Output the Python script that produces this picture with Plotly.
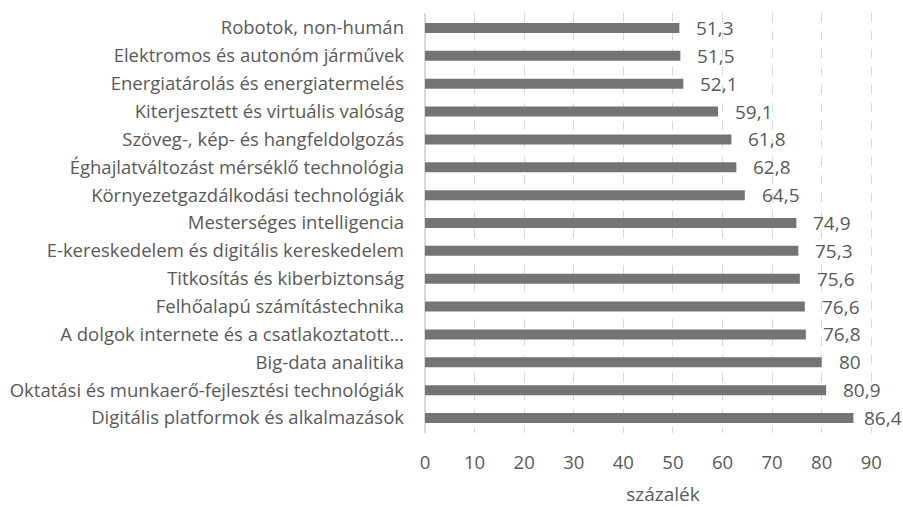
import plotly.graph_objects as go

# categories from top to bottom as shown
categories = [
    "Robotok, non-humán",
    "Elektromos és autonóm járművek",
    "Energiatárolás és energiatermelés",
    "Kiterjesztett és virtuális valóság",
    "Szöveg-, kép- és hangfeldolgozás",
    "Éghajlatváltozást mérséklő technológia",
    "Környezetgazdálkodási technológiák",
    "Mesterséges intelligencia",
    "E-kereskedelem és digitális kereskedelem",
    "Titkosítás és kiberbiztonság",
    "Felhőalapú számítástechnika",
    "A dolgok internete és a csatlakoztatott…",
    "Big-data analitika",
    "Oktatási és munkaerő-fejlesztési technológiák",
    "Digitális platformok és alkalmazások",
]
values = [51.3, 51.5, 52.1, 59.1, 61.8, 62.8, 64.5, 74.9, 75.3, 75.6, 76.6, 76.8, 80, 80.9, 86.4]
value_labels = ["51,3", "51,5", "52,1", "59,1", "61,8", "62,8", "64,5", "74,9",
                "75,3", "75,6", "76,6", "76,8", "80", "80,9", "86,4"]
x_ticks = [0, 10, 20, 30, 40, 50, 60, 70, 80, 90]

text_color = "#595959"
font_family = "Open Sans, Liberation Sans, sans-serif"
x_max = 96

fig = go.Figure()
fig.add_trace(go.Bar(
    x=values,
    y=categories,
    orientation="h",
    marker=dict(color="#747474", line=dict(width=0)),
    hoverinfo="x+y",
))

# data labels to the right of each bar end; pulled in a little when near the edge
for v, c, t in zip(values, categories, value_labels):
    shift = 15 if v < x_max - 10 else 9
    fig.add_annotation(x=v, y=c, text=t, showarrow=False, xanchor="left",
                       xshift=shift, font=dict(size=19, color=text_color, family=font_family))

fig.update_layout(
    width=903,
    height=507,
    plot_bgcolor="white",
    paper_bgcolor="white",
    margin=dict(l=425, r=2, t=13, b=74),
    bargap=0.64,
    showlegend=False,
    font=dict(family=font_family, color=text_color, size=18),
)

fig.update_xaxes(
    range=[0, x_max],
    tickvals=x_ticks,
    showgrid=True,
    gridcolor="#d9d9d9",
    griddash="dash",
    gridwidth=1,
    zeroline=True,
    zerolinecolor="#d9d9d9",
    zerolinewidth=2,
    ticks="",
    automargin=False,
    ticklabelstandoff=16,
    tickfont=dict(size=18.5, color=text_color),
    title=dict(text="százalék", font=dict(size=19, color=text_color), standoff=26),
)
fig.update_yaxes(
    categoryorder="array",
    categoryarray=categories[::-1],
    showgrid=False,
    ticks="",
    automargin=False,
    ticklabelstandoff=20,
    tickfont=dict(size=18.5, color=text_color),
)

# drop the default body margin so the figure sits flush in the window
fig.write_html("out.html",
               config={"displayModeBar": False},
               post_script="document.body.style.margin='0';document.body.style.overflow='hidden';")
